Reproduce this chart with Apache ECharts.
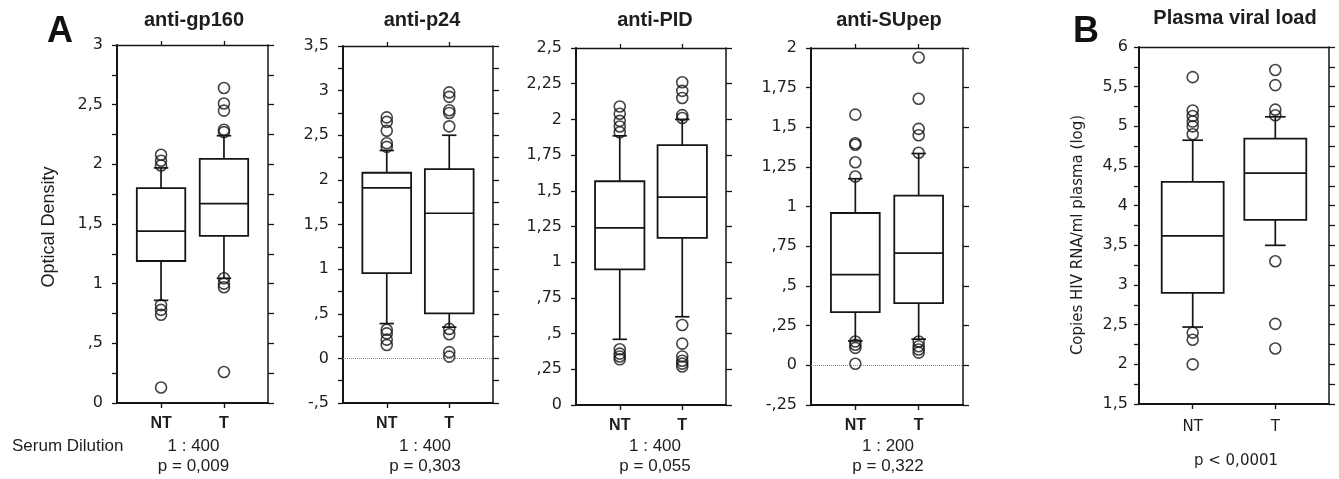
<!DOCTYPE html>
<html>
<head>
<meta charset="utf-8">
<script src="https://cdn.jsdelivr.net/npm/echarts@6/dist/echarts.min.js"></script>
<style>
html,body{margin:0;padding:0;background:#fff;}
#chart{width:1339px;height:479px;}
</style>
</head>
<body>
<div id="chart"></div>
<script>
// ---------- DATA ----------
const categories = ['NT', 'T'];
const panelTitles = ['anti-gp160', 'anti-p24', 'anti-PID', 'anti-SUpep', 'Plasma viral load'];
const panelLetters = ['A', 'B'];
const dilutionLabel = 'Serum Dilution';
const dilutions = ['1 : 400', '1 : 400', '1 : 400', '1 : 200'];
const pValues = ['p = 0,009', 'p = 0,303', 'p = 0,055', 'p = 0,322', 'p < 0,0001'];
const yNameA = 'Optical Density';
const yNameB = 'Copies HIV RNA/ml plasma (log)';

// box statistics: [lower whisker, Q1, median, Q3, upper whisker]
const gp160NT = [0.86, 1.19, 1.44, 1.80, 1.97];
const gp160T  = [1.045, 1.40, 1.67, 2.045, 2.24];
const gp160NTOut = [2.08, 2.03, 1.99, 0.82, 0.78, 0.74, 0.13];
const gp160TOut  = [2.64, 2.51, 2.45, 2.29, 2.27, 1.045, 1.00, 0.97, 0.26];

const p24NT = [0.39, 0.955, 1.91, 2.08, 2.33];
const p24T  = [0.35, 0.505, 1.626, 2.12, 2.50];
const p24NTOut = [2.70, 2.65, 2.55, 2.41, 2.37, 0.32, 0.28, 0.21, 0.15];
const p24TOut  = [2.98, 2.93, 2.78, 2.75, 2.60, 0.33, 0.27, 0.07, 0.02];

const pidNT = [0.46, 0.95, 1.24, 1.567, 1.885];
const pidT  = [0.618, 1.171, 1.456, 1.82, 2.00];
const pidNTOut = [2.09, 2.04, 1.99, 1.95, 1.91, 0.39, 0.36, 0.34, 0.32];
const pidTOut  = [2.26, 2.20, 2.15, 2.03, 2.01, 0.56, 0.43, 0.34, 0.31, 0.29, 0.27];

const suNT = [0.154, 0.335, 0.572, 0.96, 1.176];
const suT  = [0.165, 0.392, 0.707, 1.069, 1.335];
const suNTOut = [1.58, 1.40, 1.39, 1.28, 1.19, 0.15, 0.13, 0.11, 0.01];
const suTOut  = [1.94, 1.68, 1.49, 1.45, 1.34, 0.15, 0.12, 0.10, 0.08];

const vlNT = [2.47, 2.90, 3.62, 4.30, 4.825];
const vlT  = [3.50, 3.82, 4.41, 4.845, 5.12];
const vlNTOut = [5.62, 5.20, 5.13, 5.06, 5.00, 4.90, 2.40, 2.31, 2.00];
const vlTOut  = [5.71, 5.52, 5.21, 5.14, 3.30, 2.51, 2.20];

// y axis ranges [min, max, label interval]
const yRanges = [[0, 3, 0.5], [-0.5, 3.5, 0.5], [0, 2.5, 0.25], [-0.25, 2, 0.25], [1.5, 6, 0.5]];

// ---------- LAYOUT ----------
const panels = [
  {box: [gp160NT, gp160T], out: [gp160NTOut, gp160TOut], grid: {left: 117, top: 45, width: 151, height: 358}, xr: [0.3, 2.7], minor: true, zero: false, cx: 194, pcx: 193.5, boxW: 0.77, capW: 0.23, B: false},
  {box: [p24NT, p24T], out: [p24NTOut, p24TOut], grid: {left: 343, top: 46, width: 150, height: 357}, xr: [0.3, 2.7], minor: true, zero: true, cx: 422, pcx: 425, boxW: 0.78, capW: 0.23, B: false},
  {box: [pidNT, pidT], out: [pidNTOut, pidTOut], grid: {left: 576, top: 48, width: 150, height: 357}, xr: [0.3, 2.7], minor: false, zero: false, cx: 655, pcx: 655, boxW: 0.79, capW: 0.23, B: false},
  {box: [suNT, suT], out: [suNTOut, suTOut], grid: {left: 811, top: 48, width: 152, height: 357}, xr: [0.3, 2.7], minor: false, zero: true, cx: 889, pcx: 888, boxW: 0.77, capW: 0.23, B: false},
  {box: [vlNT, vlT], out: [vlNTOut, vlTOut], grid: {left: 1139, top: 47, width: 190, height: 357}, xr: [0.35, 2.65], minor: true, zero: false, cx: 1235, pcx: 1236, boxW: 0.75, capW: 0.25, B: true}
];

const INK = '#151515';
const TXT = '#1e1e1e';

function fmtY(v) {
  let s = String(+(+v).toFixed(2)).replace('.', ',');
  if (s.indexOf('0,') === 0) s = s.slice(1);
  if (s.indexOf('-0,') === 0) s = '-' + s.slice(2);
  return s;
}

function makeBoxRender(boxW, capW) {
  return function (params, api) {
    const x = api.value(0);
    const pts = [1, 2, 3, 4, 5].map(function (i) { return api.coord([x, api.value(i)]); });
    const cx = pts[0][0];
    const hw = api.size([boxW, 0])[0] / 2;
    const cw = api.size([capW, 0])[0] / 2;
    const st = {stroke: INK, lineWidth: 1.7};
    return {
      type: 'group',
      children: [
        {type: 'line', shape: {x1: cx, y1: pts[0][1], x2: cx, y2: pts[1][1]}, style: st},
        {type: 'line', shape: {x1: cx, y1: pts[3][1], x2: cx, y2: pts[4][1]}, style: st},
        {type: 'line', shape: {x1: cx - cw, y1: pts[0][1], x2: cx + cw, y2: pts[0][1]}, style: st},
        {type: 'line', shape: {x1: cx - cw, y1: pts[4][1], x2: cx + cw, y2: pts[4][1]}, style: st},
        {type: 'rect', shape: {x: cx - hw, y: pts[3][1], width: 2 * hw, height: pts[1][1] - pts[3][1]}, style: {stroke: INK, lineWidth: 1.8, fill: 'none'}},
        {type: 'line', shape: {x1: cx - hw, y1: pts[2][1], x2: cx + hw, y2: pts[2][1]}, style: st}
      ]
    };
  };
}

const grids = [], xAxes = [], yAxes = [], series = [], graphics = [];

panels.forEach(function (p, i) {
  const yr = yRanges[i];
  grids.push(Object.assign({containLabel: false}, p.grid));
  const catFont = p.B
    ? {fontFamily: 'DejaVu Sans', fontSize: 15, fontWeight: 'normal', color: TXT, margin: 16}
    : {fontFamily: 'Liberation Sans', fontSize: 16, fontWeight: 'bold', color: TXT, margin: 13};
  xAxes.push({
    gridIndex: i, type: 'value', position: 'bottom', min: p.xr[0], max: p.xr[1],
    axisLine: {show: true, onZero: false, lineStyle: {color: INK, width: 2}},
    axisTick: {show: true, customValues: [1, 2], length: 5, lineStyle: {color: INK, width: 1.4}},
    axisLabel: Object.assign({customValues: [1, 2], formatter: function (v) { return categories[Math.round(v) - 1]; }}, catFont),
    splitLine: {show: false}
  });
  xAxes.push({
    gridIndex: i, type: 'value', position: 'top', min: p.xr[0], max: p.xr[1],
    axisLine: {show: true, onZero: false, lineStyle: {color: INK, width: 1.4}},
    axisTick: {show: !p.B, customValues: [1, 2], length: 4, lineStyle: {color: INK, width: 1.3}},
    axisLabel: {show: false},
    splitLine: {show: false}
  });
  const yLabel = p.B
    ? {fontFamily: 'DejaVu Sans', fontSize: 16, color: TXT, margin: 11}
    : {fontFamily: 'DejaVu Sans', fontSize: 16, color: TXT, margin: 14};
  yAxes.push({
    gridIndex: i, type: 'value', position: 'left', min: yr[0], max: yr[1], interval: yr[2],
    axisLine: {show: true, onZero: false, lineStyle: {color: INK, width: 2}},
    axisTick: {show: true, length: 5, lineStyle: {color: INK, width: 1.3}},
    minorTick: {show: p.minor, splitNumber: 2, length: 5, lineStyle: {color: INK, width: 1.3}},
    axisLabel: Object.assign({formatter: fmtY}, yLabel),
    splitLine: {show: false}, minorSplitLine: {show: false}
  });
  yAxes.push({
    gridIndex: i, type: 'value', position: 'right', min: yr[0], max: yr[1], interval: yr[2],
    axisLine: {show: true, onZero: false, lineStyle: {color: INK, width: 1.5}},
    axisTick: {show: true, length: 6, lineStyle: {color: INK, width: 1.3}},
    minorTick: {show: p.minor, splitNumber: 2, length: 6, lineStyle: {color: INK, width: 1.3}},
    axisLabel: {show: false},
    splitLine: {show: false}, minorSplitLine: {show: false}
  });

  series.push({
    type: 'custom', xAxisIndex: 2 * i, yAxisIndex: 2 * i,
    renderItem: makeBoxRender(p.boxW, p.capW),
    encode: {x: 0, y: [1, 2, 3, 4, 5]},
    data: p.box.map(function (b, k) { return [k + 1].concat(b); }),
    silent: true, z: 2
  });
  const outData = [];
  p.out.forEach(function (arr, k) { arr.forEach(function (v) { outData.push([k + 1, v]); }); });
  const sc = {
    type: 'scatter', xAxisIndex: 2 * i, yAxisIndex: 2 * i,
    data: outData, symbol: 'circle', symbolSize: 11,
    itemStyle: {color: 'rgba(0,0,0,0)', borderColor: INK, borderWidth: 1.6},
    silent: true, z: 3
  };
  if (p.zero) {
    sc.markLine = {
      silent: true, symbol: 'none', label: {show: false},
      lineStyle: {color: '#888', type: 'dotted', width: 1},
      data: [{yAxis: 0}]
    };
  }
  series.push(sc);

  graphics.push({type: 'text', x: p.cx, y: p.B ? 18 : 20, style: {text: panelTitles[i], font: 'bold 20px "Liberation Sans"', fill: TXT, align: 'center', verticalAlign: 'middle'}});
  if (!p.B) {
    graphics.push({type: 'text', x: p.pcx, y: 446, style: {text: dilutions[i], font: '17px "Liberation Sans"', fill: TXT, align: 'center', verticalAlign: 'middle'}});
    graphics.push({type: 'text', x: p.pcx, y: 466, style: {text: pValues[i], font: '17px "Liberation Sans"', fill: TXT, align: 'center', verticalAlign: 'middle'}});
  } else {
    graphics.push({type: 'text', x: p.pcx, y: 461, style: {text: pValues[i], font: '15px "DejaVu Sans"', fill: TXT, align: 'center', verticalAlign: 'middle'}});
  }
});

graphics.push({type: 'text', x: 47, y: 32, style: {text: panelLetters[0], font: 'bold 36px "Liberation Sans"', fill: '#111', align: 'left', verticalAlign: 'middle'}});
graphics.push({type: 'text', x: 1073, y: 32, style: {text: panelLetters[1], font: 'bold 36px "Liberation Sans"', fill: '#111', align: 'left', verticalAlign: 'middle'}});
graphics.push({type: 'text', x: 12, y: 446, style: {text: dilutionLabel, font: '17px "Liberation Sans"', fill: TXT, align: 'left', verticalAlign: 'middle'}});
graphics.push({type: 'text', x: 49, y: 227, rotation: Math.PI / 2, style: {text: yNameA, font: '18px "Liberation Sans"', fill: TXT, align: 'center', verticalAlign: 'middle'}});
graphics.push({type: 'text', x: 1078, y: 235, rotation: Math.PI / 2, style: {text: yNameB, font: '15px "DejaVu Sans"', fill: TXT, align: 'center', verticalAlign: 'middle'}});

const chart = echarts.init(document.getElementById('chart'), null, {renderer: 'canvas'});
chart.setOption({
  backgroundColor: '#ffffff',
  animation: false,
  grid: grids,
  xAxis: xAxes,
  yAxis: yAxes,
  series: series,
  graphic: graphics
});
</script>
</body>
</html>
